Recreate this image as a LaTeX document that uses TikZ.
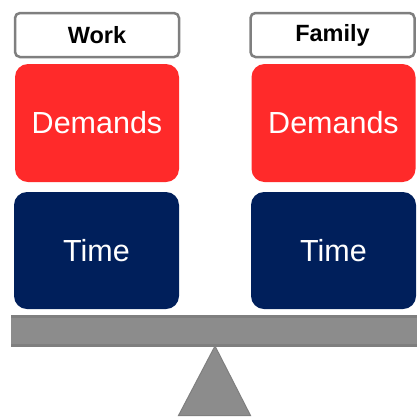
\documentclass[tikz,border=0pt]{standalone}
\usepackage{fontspec}
\setmainfont{Liberation Sans}
\usetikzlibrary{positioning}
\definecolor{demandred}{HTML}{FF2A2A}
\definecolor{timeblue}{HTML}{001F5B}
\definecolor{beamgray}{HTML}{8C8C8C}
\definecolor{edgegray}{HTML}{7F7F7F}
\tikzset{
    side/.style={draw=edgegray, line width=2.5pt, fill=white, rounded corners=5pt,
        minimum width=164pt, minimum height=44pt, font=\fontsize{23.5}{23.5}\selectfont\bfseries},
    demandbox/.style={fill=demandred, text=white, rounded corners=13pt,
        minimum width=164pt, minimum height=118pt, font=\fontsize{30.5}{30.5}\selectfont},
    timebox/.style={fill=timeblue, text=white, rounded corners=13pt,
        minimum width=165pt, minimum height=117pt, font=\fontsize{30.5}{30.5}\selectfont}
}
\begin{document}
\begin{tikzpicture}[x=1pt, y=-1pt]
        \useasboundingbox (0,0) rectangle (417,416);
        \node [side] (work) at (97, 35) {Work}; % left side
        \node [side] (family) at (332.5, 35) {Family}; % right side
        \node [demandbox] (workdem) at (97, 123) {Demands};
        \node [demandbox] (famdem) at (333.5, 123) {Demands};
        \node [timebox] (worktime) at (96.5, 250.5) {Time};
        \node [timebox] (famtime) at (333.5, 250.5) {Time};

        \fill [beamgray] (11, 315) rectangle (417, 347); % beam
        \draw [edgegray, line width=3pt] (11, 316.5) -- (417, 316.5);
        \draw [edgegray, line width=3pt] (11, 345.5) -- (417, 345.5);
        \coordinate (pivot) at (215, 346);
        \draw [edgegray, fill=beamgray, line width=1pt] (pivot) -- (178.5, 415.5) -- (250.5, 415.5) -- cycle; % fulcrum

    \end{tikzpicture}
\end{document}
